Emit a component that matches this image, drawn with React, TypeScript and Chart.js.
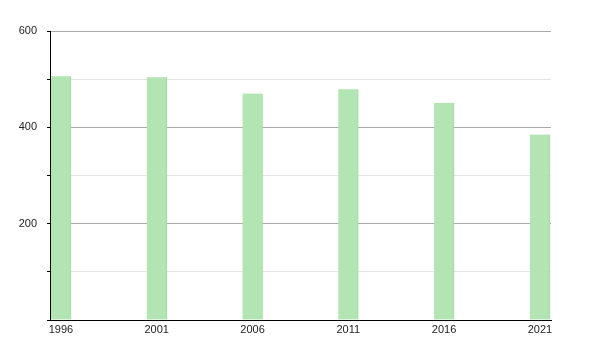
import React, { useEffect, useRef } from "react";
import { Chart, registerables } from "chart.js";

Chart.register(...registerables);

const years = [1996, 2001, 2006, 2011, 2016, 2021];
const values = [506, 504, 470, 479, 451, 385];
const yLabelTicks = [200, 400, 600];
const BAR_OFFSET = 0.52;

export default function App() {
  const ref = useRef<HTMLCanvasElement | null>(null);

  useEffect(() => {
    if (!ref.current) return;
    const chart = new Chart(ref.current, {
      type: "bar",
      data: {
        datasets: [
          {
            data: years.map((y, i) => ({ x: y + BAR_OFFSET, y: values[i] })),
            backgroundColor: "rgb(178,229,178)",
            borderColor: "rgb(165,216,165)",
            borderWidth: { right: 1, left: 0, top: 0, bottom: 0 },
            borderSkipped: false,
            barThickness: 20,
          },
        ],
      },
      options: {
        animation: false,
        responsive: true,
        maintainAspectRatio: false,
        layout: { padding: { top: 31, right: 49, bottom: 0, left: 0 } },
        plugins: { legend: { display: false }, tooltip: { enabled: false } },
        scales: {
          x: {
            type: "linear",
            min: 1995.95,
            max: 2022.1,
            offset: false,
            grid: { display: false, drawTicks: false },
            border: { display: true, color: "#000", width: 1 },
            afterBuildTicks: (scale: any) => {
              scale.ticks = years.map((y) => ({ value: y + BAR_OFFSET }));
            },
            afterFit: (scale: any) => {
              scale.height = 30;
            },
            ticks: {
              autoSkip: false,
              maxRotation: 0,
              padding: 3,
              color: "#222",
              font: { family: "Liberation Sans", size: 11 },
              callback: (v: any) => String(Math.round(Number(v) - BAR_OFFSET)),
            },
          },
          y: {
            type: "linear",
            min: 0,
            max: 600,
            afterFit: (scale: any) => {
              scale.width = 50;
            },
            border: { display: true, color: "#000", width: 1 },
            grid: {
              drawTicks: true,
              tickLength: 3,
              tickColor: "#000",
              color: (ctx: any) => {
                const v = ctx.tick ? ctx.tick.value : 0;
                if (v === 0) return "rgba(0,0,0,0)";
                return yLabelTicks.includes(v) ? "#aaaaaa" : "#e4e4e4";
              },
            },
            ticks: {
              stepSize: 100,
              padding: 10,
              color: "#222",
              font: { family: "Liberation Sans", size: 11 },
              callback: (v: any) => (yLabelTicks.includes(Number(v)) ? String(v) : ""),
            },
          },
        },
      },
    });
    return () => chart.destroy();
  }, []);

  return (
    <div style={{ position: "absolute", left: 0, top: 0, width: 600, height: 350 }}>
      <canvas ref={ref} />
    </div>
  );
}
